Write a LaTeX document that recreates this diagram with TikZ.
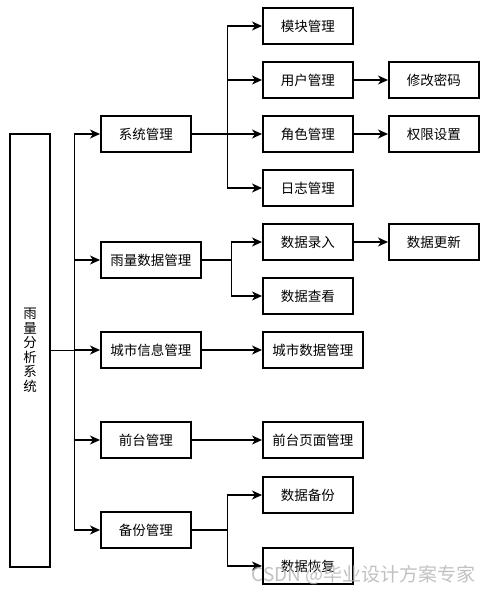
\documentclass[tikz,border=0pt]{standalone}
\usepackage{fontspec}
\setmainfont{Noto Sans CJK SC}
\usetikzlibrary{arrows.meta}

\begin{document}
\begin{tikzpicture}[x=1pt,y=-1pt,
  box/.style={draw,line width=1.5pt,minimum width=90pt,minimum height=36pt,inner sep=0pt,anchor=west,font=\fontsize{13.5}{15}\selectfont},
  wbox/.style={box,minimum width=100pt},
  link/.style={line width=1.1pt,-{Stealth[length=10pt,width=9pt,inset=3pt]}}]
\useasboundingbox (0,0) rectangle (490,593);

% root
\node[draw,line width=1.5pt,minimum width=40pt,minimum height=433pt,inner sep=0pt,align=center,
  font=\fontsize{13.5}{14.5}\selectfont] (root) at (30,350.5) {雨\\量\\分\\析\\系\\统};

% level 1
\node[box] (xtgl) at (100,134) {系统管理};
\node[wbox] (ylsj) at (100,260) {雨量数据管理};
\node[wbox] (csxx) at (100,350) {城市信息管理};
\node[box] (qtgl) at (100,440) {前台管理};
\node[box] (bfgl) at (100,530) {备份管理};

% level 2
\node[box] (mkgl) at (262,26) {模块管理};
\node[box] (yhgl) at (262,80) {用户管理};
\node[box] (jsgl) at (262,134) {角色管理};
\node[box] (rzgl) at (262,188) {日志管理};
\node[box] (sjlr) at (262,242) {数据录入};
\node[box] (sjck) at (262,296) {数据查看};
\node[wbox] (cssj) at (262,350) {城市数据管理};
\node[wbox] (qtym) at (262,440) {前台页面管理};
\node[box] (sjbf) at (262,495) {数据备份};
\node[box] (sjhf) at (262,566) {数据恢复};

% level 3
\node[box] (xgmm) at (388,80) {修改密码};
\node[box] (qxsz) at (388,134) {权限设置};
\node[box] (sjgx) at (388,242) {数据更新};

\foreach \n in {xtgl,ylsj,csxx,qtgl,bfgl}
  \draw[link] (root.east) -- ++(24,0) |- (\n.west);

\foreach \n in {mkgl,yhgl,jsgl,rzgl}
  \draw[link] (xtgl.east) -- ++(36,0) |- (\n.west);
\foreach \n in {sjlr,sjck}
  \draw[link] (ylsj.east) -- ++(30,0) |- (\n.west);
\foreach \n in {sjbf,sjhf}
  \draw[link] (bfgl.east) -- ++(36,0) |- (\n.west);

\draw[link] (csxx.east) -- (cssj.west);
\draw[link] (qtgl.east) -- (qtym.west);
\draw[link] (yhgl.east) -- (xgmm.west);
\draw[link] (jsgl.east) -- (qxsz.west);
\draw[link] (sjlr.east) -- (sjgx.west);

% watermark
\node[anchor=south east,text=gray!60,opacity=0.8,inner sep=0pt,font=\fontsize{19}{21}\selectfont] (wm) at (476,585) {CSDN @毕业设计方案专家};
\end{tikzpicture}
\end{document}
